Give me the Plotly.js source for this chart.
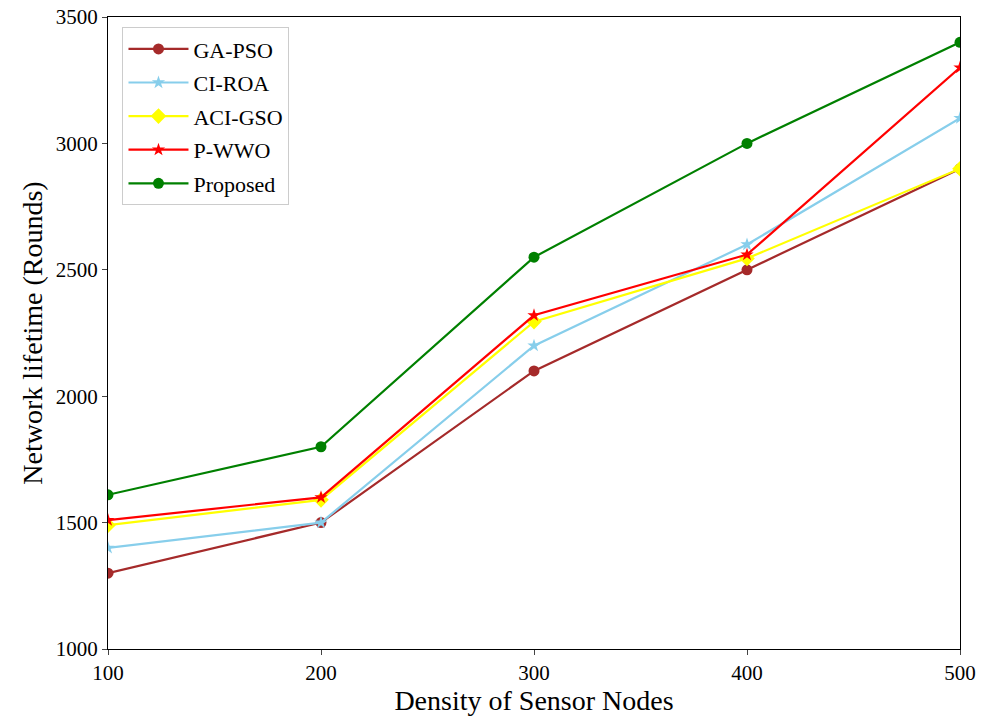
<!DOCTYPE html>
<html>
<head>
<meta charset="utf-8">
<script src="https://cdn.plot.ly/plotly-3.0.1.min.js"></script>
<style>html,body{margin:0;padding:0;background:#fff;}#chart{width:989px;height:718px;}</style>
</head>
<body>
<div id="chart"></div>
<script>
const density = [100, 200, 300, 400, 500];
const gaPso = [1300, 1500, 2100, 2500, 2900];
const ciRoa = [1400, 1500, 2200, 2600, 3100];
const aciGso = [1490, 1590, 2295, 2545, 2900];
const pWwo = [1510, 1600, 2320, 2560, 3300];
const proposed = [1610, 1800, 2550, 3000, 3400];
const seriesNames = ["GA-PSO", "CI-ROA", "ACI-GSO", "P-WWO", "Proposed"];

const styles = [
  {color: "#a52a2a", symbol: "circle", size: 11},
  {color: "#87ceeb", symbol: "star", size: 10},
  {color: "#ffff00", symbol: "diamond", size: 12},
  {color: "#ff0000", symbol: "star", size: 10},
  {color: "#008000", symbol: "circle", size: 11}
];
const values = [gaPso, ciRoa, aciGso, pWwo, proposed];
const traces = values.map((v, i) => ({
  x: density, y: v, name: seriesNames[i], type: "scatter", mode: "lines+markers",
  legendgroup: "g" + i,
  line: {color: styles[i].color, width: 2.2},
  marker: {color: styles[i].color, symbol: styles[i].symbol, size: styles[i].size}
}));

const font = "Liberation Serif, Times New Roman, serif";
const layout = {
  width: 989, height: 718,
  margin: {l: 108, r: 29, t: 17, b: 69},
  paper_bgcolor: "#fff", plot_bgcolor: "#fff",
  font: {family: font, color: "#000", size: 21},
  showlegend: true,
  legend: {x: 0.017, y: 0.984, xanchor: "left", yanchor: "top",
    bgcolor: "rgba(255,255,255,0.9)", bordercolor: "#cccccc", borderwidth: 1,
    font: {family: font, size: 22}, tracegroupgap: 2, itemwidth: 60},
  xaxis: {range: [100, 500], tickvals: density, ticks: "outside", ticklen: 5,
    showline: true, linecolor: "#000", linewidth: 1.2, mirror: true, showgrid: false, zeroline: false,
    tickfont: {family: font, size: 21},
    title: {text: "Density of Sensor Nodes", font: {family: font, size: 28}, standoff: 4}},
  yaxis: {range: [1000, 3500], dtick: 500, tick0: 1000, ticks: "outside", ticklen: 5,
    showline: true, linecolor: "#000", linewidth: 1.2, mirror: true, showgrid: false, zeroline: false,
    tickfont: {family: font, size: 21},
    title: {text: "Network lifetime (Rounds)", font: {family: font, size: 28}, standoff: 4}}
};
Plotly.newPlot("chart", traces, layout, {displayModeBar: false, responsive: false});
</script>
</body>
</html>
